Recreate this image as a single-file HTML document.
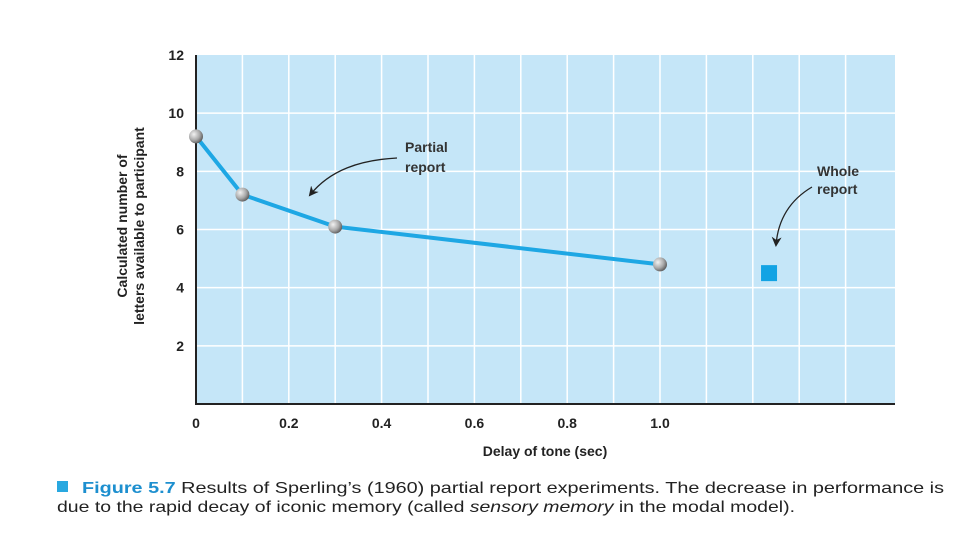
<!DOCTYPE html>
<html><head><meta charset="utf-8"><style>
body{margin:0;background:#fff;width:960px;height:540px;overflow:hidden;font-family:"Liberation Sans",Arial,sans-serif}
</style></head><body>
<svg width="960" height="540" viewBox="0 0 960 540" xmlns="http://www.w3.org/2000/svg">
<defs>
<radialGradient id="ball" cx="0.35" cy="0.35" r="0.7">
<stop offset="0" stop-color="#f2f2f2"/><stop offset="0.6" stop-color="#a8a8a8"/><stop offset="1" stop-color="#5a5a5a"/>
</radialGradient>
<marker id="ah" markerWidth="10" markerHeight="10" refX="8" refY="5" orient="auto" markerUnits="userSpaceOnUse">
<path d="M0,0 L10,5 L0,10 L3,5 Z" fill="#222"/>
</marker>
</defs>
<rect x="196" y="55" width="699" height="349" fill="#c5e6f8"/>
<g id="grid"></g>
<g id="axes"></g>
<g id="marks"></g>
<text x="0" y="0" transform="translate(127,226) rotate(-90)" text-anchor="middle" font-size="14" font-weight="bold" fill="#222">Calculated number of</text>
<text x="0" y="0" transform="translate(144,226) rotate(-90)" text-anchor="middle" font-size="14" font-weight="bold" fill="#222">letters available to participant</text>
<text x="545" y="456" text-anchor="middle" font-size="14" font-weight="bold" fill="#222">Delay of tone (sec)</text>
<text x="405" y="152" font-size="14" font-weight="bold" fill="#333">Partial</text>
<text x="405" y="172" font-size="14" font-weight="bold" fill="#333">report</text>
<path d="M397,158 C360,160 330,170 310,195" fill="none" stroke="#222" stroke-width="1.3" marker-end="url(#ah)"/>
<text x="817" y="176" font-size="14" font-weight="bold" fill="#333">Whole</text>
<text x="817" y="194" font-size="14" font-weight="bold" fill="#333">report</text>
<path d="M812,187 C790,200 778,220 776,245" fill="none" stroke="#222" stroke-width="1.3" marker-end="url(#ah)"/>
<rect x="57" y="481" width="11" height="11" fill="#29a8e0"/>
<text x="82" y="493" font-size="16" fill="#222" textLength="862" lengthAdjust="spacingAndGlyphs"><tspan font-weight="bold" fill="#1d8fcf">Figure 5.7</tspan> Results of Sperling’s (1960) partial report experiments. The decrease in performance is</text>
<text x="57" y="512" font-size="16" fill="#222" textLength="738" lengthAdjust="spacingAndGlyphs">due to the rapid decay of iconic memory (called <tspan font-style="italic">sensory memory</tspan> in the modal model).</text>
</svg>
<script>
const partialDelays=[0,0.1,0.3,1.0];
const partialValues=[9.2,7.2,6.1,4.8];
const wholeDelay=[1.235];
const wholeValue=[4.5];
const yTicks=[2,4,6,8,10,12];
const xTicks=[0,0.2,0.4,0.6,0.8,1.0];
const xTickLabels=["0","0.2","0.4","0.6","0.8","1.0"];
const NS="http://www.w3.org/2000/svg";
const X0=196,X1=895,Y0=404,Y1=55;
function xs(v){return X0+v*464;}
function ys(v){return Y0-v*(Y0-Y1)/12;}
function mk(tag,attrs,parent){const e=document.createElementNS(NS,tag);for(const k in attrs)e.setAttribute(k,attrs[k]);parent.appendChild(e);return e;}
const grid=document.getElementById('grid'),axes=document.getElementById('axes'),marks=document.getElementById('marks');
for(let i=1;xs(i*0.1)<X1-20;i++){
  const l=mk('line',{x1:xs(i*0.1),x2:xs(i*0.1),y1:Y1,y2:Y0,stroke:'#fff','stroke-width':1.5},grid);
  
  
}
yTicks.forEach(t=>{
  if(t<12){const l=mk('line',{x1:X0,x2:X1,y1:ys(t),y2:ys(t),stroke:'#fff','stroke-width':1.5},grid);
  
  }
  const tx=mk('text',{x:184,y:ys(t)+5,'text-anchor':'end','font-size':14,'font-weight':'bold',fill:'#222'},axes);
  tx.textContent=t;
  
  
});
xTicks.forEach((t,i)=>{
  const tx=mk('text',{x:xs(t),y:428,'text-anchor':'middle','font-size':14,'font-weight':'bold',fill:'#222'},axes);
  tx.textContent=xTickLabels[i];
  
  
});
const ya=mk('line',{x1:X0,x2:X0,y1:Y1,y2:Y0,stroke:'#222','stroke-width':2},axes);


const xa=mk('line',{x1:X0-1,x2:X1,y1:Y0,y2:Y0,stroke:'#222','stroke-width':2},axes);


const pts=partialDelays.map((d,i)=>xs(d)+','+ys(partialValues[i])).join(' ');
const pl=mk('polyline',{points:pts,fill:'none',stroke:'#1ea7e4','stroke-width':4,'stroke-linejoin':'round'},marks);


partialDelays.forEach((d,i)=>{
  const c=mk('circle',{cx:xs(d),cy:ys(partialValues[i]),r:7,fill:'url(#ball)'},marks);
  
  
});
wholeDelay.forEach((d,i)=>{
  const r=mk('rect',{x:xs(d)-8,y:ys(wholeValue[i])-8,width:16,height:16,fill:'#12a3e4'},marks);
  
  
});
</script>
</body></html>
